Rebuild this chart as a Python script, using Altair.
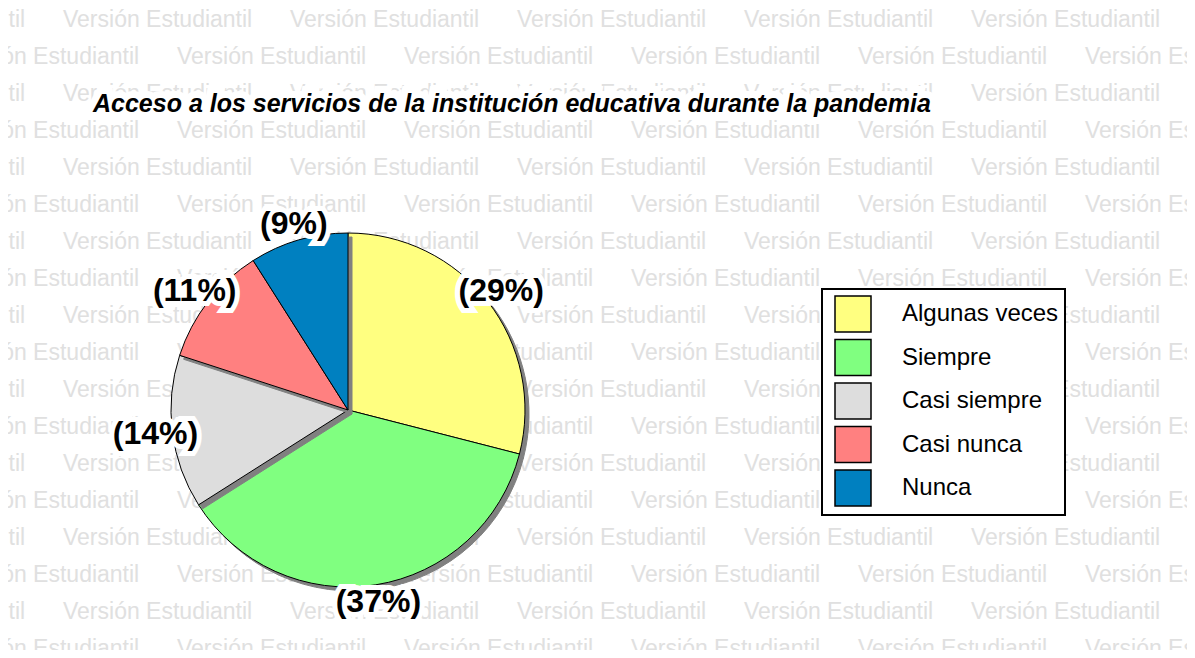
import altair as alt
import pandas as pd

# ---- data ----
categories = ["Algunas veces", "Siempre", "Casi siempre", "Casi nunca", "Nunca"]
values = [29, 37, 14, 11, 9]
labels = [f"({v}%)" for v in values]
colors = ["#FFFF80", "#80FF80", "#DDDDDD", "#FF8080", "#0080C0"]
shadow_color = "#808080"
title_text = "Acceso a los servicios de la institución educativa durante la pandemia"
watermark_text = "Versión Estudiantil"
wm_rows = list(range(18))
wm_cols = list(range(7))

FONT = "Liberation Sans"
W, H = 1179, 642
CX, CY, R = 340, 402, 177

# ---- tables ----
rows = []
for i, (c, v, l) in enumerate(zip(categories, values, labels)):
    rows.append(dict(idx=i, key="sombra " + c, value=v, kind="shadow", label=l))
    rows.append(dict(idx=i, key=c, value=v, kind="slice", label=l))
pie_df = pd.DataFrame(rows)
shadow_keys = ["sombra " + c for c in categories]

wm_df = pd.DataFrame([dict(r=r, c=c) for r in wm_rows for c in wm_cols])

theta_scale = alt.Scale(domain=[0, 100])

base = alt.Chart(pie_df).transform_window(
    cum="sum(value)", sort=[alt.SortField("idx")], groupby=["kind"], frame=[None, 0]
).transform_calculate(
    t1="datum.cum",
    t0="datum.cum - datum.value",
    tm="datum.cum - datum.value / 2",
    draw="datum.idx * 2 + (datum.kind == 'slice' ? 1 : 0)",
    cx=f"datum.kind == 'shadow' ? {CX + 4} : {CX}",
    cy=f"datum.kind == 'shadow' ? {CY + 4} : {CY}",
)

arcs = base.mark_arc(radius=R, strokeWidth=1).encode(
    theta=alt.Theta("t0:Q", scale=theta_scale),
    theta2="t1:Q",
    x=alt.X("cx:Q", scale=None, axis=None),
    y=alt.Y("cy:Q", scale=None, axis=None),
    color=alt.Color(
        "key:N",
        scale=alt.Scale(domain=categories + shadow_keys, range=colors + [shadow_color] * 5),
        legend=alt.Legend(values=categories, title=None),
    ),
    stroke=alt.condition("datum.kind == 'slice'", alt.value("black"), alt.value(shadow_color)),
    order=alt.Order("draw:Q"),
)

lab_base = base.transform_filter("datum.kind == 'slice'")
lab_halo = lab_base.mark_text(
    radius=194, font=FONT, fontSize=32, fontWeight="bold", align="center", baseline="middle",
    stroke="white", strokeWidth=10, strokeJoin="miter", fill="white",
).encode(
    theta=alt.Theta("tm:Q", scale=theta_scale),
    text="label:N",
    x=alt.value(CX), y=alt.value(CY),
)
lab_text = lab_base.mark_text(
    radius=194, font=FONT, fontSize=32, fontWeight="bold", align="center", baseline="middle",
    color="black",
).encode(
    theta=alt.Theta("tm:Q", scale=theta_scale),
    text="label:N",
    x=alt.value(CX), y=alt.value(CY),
)

watermark = alt.Chart(wm_df).transform_calculate(
    px="datum.c * 227 + (datum.r % 2 == 0 ? -172 : -58)",
    py="19 + 37 * datum.r",
).mark_text(
    font=FONT, fontSize=23, align="left", baseline="alphabetic", color="#E0E0E0"
).encode(
    x=alt.X("px:Q", scale=None, axis=None),
    y=alt.Y("py:Q", scale=None, axis=None),
    text=alt.value(watermark_text),
)

title_df = pd.DataFrame({"t": [title_text]})
title_halo = alt.Chart(title_df).mark_text(
    font=FONT, fontSize=25, fontWeight="bold", fontStyle="italic", align="left",
    baseline="alphabetic", stroke="white", strokeWidth=14, strokeJoin="miter", fill="white",
).encode(text="t:N", x=alt.value(85), y=alt.value(104))
title_mark = alt.Chart(title_df).mark_text(
    font=FONT, fontSize=25, fontWeight="bold", fontStyle="italic", align="left",
    baseline="alphabetic", color="black",
).encode(text="t:N", x=alt.value(85), y=alt.value(104))

chart = alt.layer(
    watermark, arcs, lab_halo, lab_text, title_halo, title_mark
).properties(
    width=W, height=H, autosize="none", padding=0, background="white"
).configure_view(
    stroke=None
).configure_legend(
    orient="none", legendX=814, legendY=281,
    symbolType="square", symbolSize=1296, symbolStrokeColor="black", symbolStrokeWidth=1.5,
    symbolOffset=6,
    labelFont=FONT, labelFontSize=24, labelColor="black", labelOffset=30, labelLimit=400,
    rowPadding=1.5, padding=6, strokeColor="black", strokeWidth=2, fillColor="white",
)

chart.save("out.html", embed_options={"renderer": "svg", "actions": False})
